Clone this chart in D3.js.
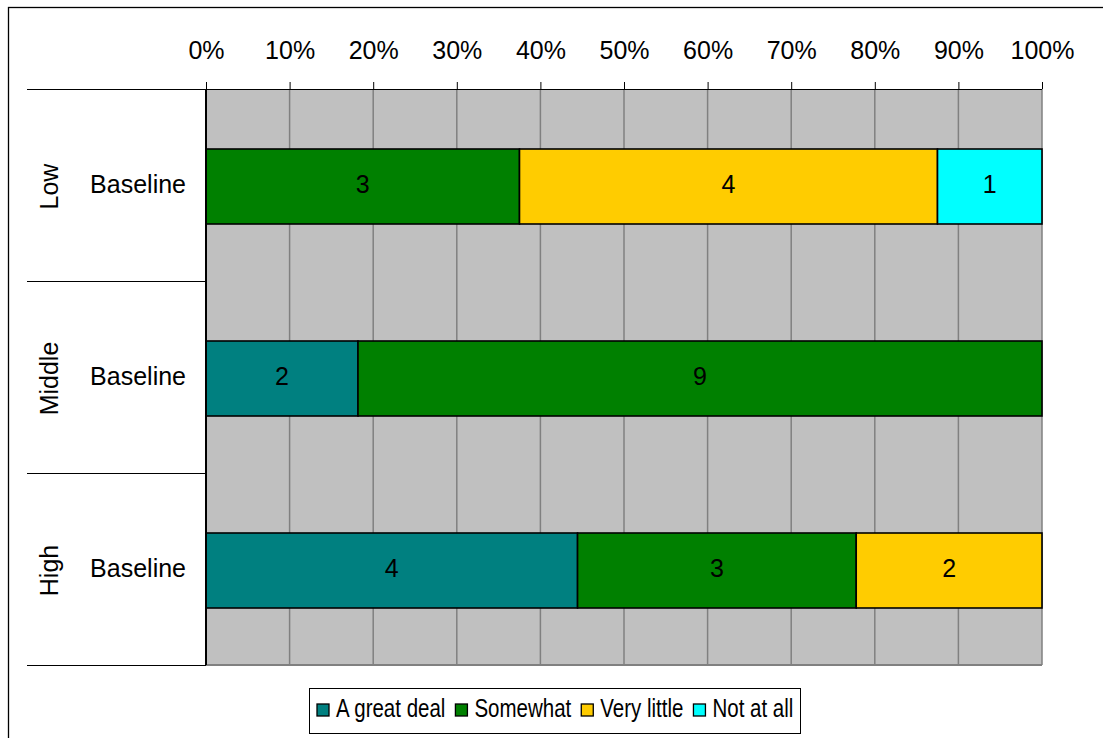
<!DOCTYPE html>
<html>
<head>
<meta charset="utf-8">
<script src="https://cdn.jsdelivr.net/npm/d3@7"></script>
<style>
  html, body { margin: 0; padding: 0; background: #fff; }
  svg { display: block; }
  text { font-family: "Liberation Sans", Arial, sans-serif; fill: #000; }
</style>
</head>
<body>
<svg id="chart" width="1103" height="738"></svg>
<script>
// Response counts per income group (all measured at baseline)
const groups = ["Low", "Middle", "High"];
const rowLabels = ["Baseline", "Baseline", "Baseline"];
const seriesNames = ["A great deal", "Somewhat", "Very little", "Not at all"];
const seriesColors = ["#008080", "#008000", "#FFCC00", "#00FFFF"];
const aGreatDeal = [0, 2, 4];
const somewhat = [3, 9, 3];
const veryLittle = [4, 0, 2];
const notAtAll = [1, 0, 0];
const tickValues = [0, 0.1, 0.2, 0.3, 0.4, 0.5, 0.6, 0.7, 0.8, 0.9, 1];

const FONT = 25;
const svg = d3.select("#chart");

// outer frame
svg.append("rect").attr("x", 8.5).attr("y", 7.5).attr("width", 1100).attr("height", 740)
  .attr("fill", "none").attr("stroke", "#000").attr("stroke-width", 1.3);

const plot = { left: 206, right: 1042, top: 89, bottom: 665 };
const x = d3.scaleLinear().domain([0, 1]).range([plot.left, plot.right]);
const y = d3.scaleBand().domain(groups).range([plot.top, plot.bottom]);

// build 100% stacked rows
const rows = groups.map((g, i) => {
  const vals = [aGreatDeal[i], somewhat[i], veryLittle[i], notAtAll[i]];
  const total = d3.sum(vals);
  let acc = 0;
  return vals.map((v, k) => {
    const s = { group: g, series: k, value: v, x0: acc / total, x1: (acc + v) / total };
    acc += v;
    return s;
  });
});

// plot background
svg.append("rect").attr("x", plot.left).attr("y", plot.top)
  .attr("width", plot.right - plot.left).attr("height", plot.bottom - plot.top)
  .attr("fill", "#C0C0C0");

// vertical gridlines
svg.append("g").selectAll("line").data(tickValues.slice(1)).join("line")
  .attr("x1", d => x(d)).attr("x2", d => x(d))
  .attr("y1", plot.top).attr("y2", plot.bottom)
  .attr("stroke", "#808080").attr("stroke-width", 1.5);

// bottom edge of plot
svg.append("line").attr("x1", plot.left).attr("x2", plot.right)
  .attr("y1", plot.bottom).attr("y2", plot.bottom)
  .attr("stroke", "#808080").attr("stroke-width", 2);

// top axis with ticks
const xAxis = d3.axisTop(x).tickValues(tickValues).tickFormat(d3.format(".0%"))
  .tickSize(7).tickSizeOuter(0).tickPadding(23);
const ax = svg.append("g").attr("transform", `translate(0,${plot.top})`).call(xAxis);
ax.select(".domain").remove();
ax.selectAll(".tick line").attr("stroke", "#000").attr("stroke-width", 1);
ax.selectAll(".tick text").style("font-size", FONT + "px")
  .style("font-family", "'Liberation Sans', Arial, sans-serif").attr("fill", "#000");
svg.append("line").attr("x1", 27).attr("x2", plot.right)
  .attr("y1", plot.top + 0.5).attr("y2", plot.top + 0.5)
  .attr("stroke", "#000").attr("stroke-width", 1);

// bars
const barH = 75;
const barG = svg.append("g");
rows.forEach((row) => {
  const segs = row.filter(d => d.value > 0);
  const cy = y(row[0].group) + y.bandwidth() / 2 + 1.5;
  barG.selectAll(null).data(segs).join("rect")
    .attr("x", d => x(d.x0)).attr("width", d => x(d.x1) - x(d.x0))
    .attr("y", cy - barH / 2).attr("height", barH)
    .attr("fill", d => seriesColors[d.series])
    .attr("stroke", "#000").attr("stroke-width", 1.6);
  barG.selectAll(null).data(segs).join("text")
    .attr("x", d => (x(d.x0) + x(d.x1)) / 2).attr("y", cy + 6.5)
    .attr("text-anchor", "middle").style("font-size", FONT + "px")
    .text(d => d.value);
});

// left axis line
svg.append("line").attr("x1", plot.left).attr("x2", plot.left)
  .attr("y1", plot.top).attr("y2", plot.bottom)
  .attr("stroke", "#000").attr("stroke-width", 2);

// group separators on the category axis
const seps = groups.map(g => y(g) + y.bandwidth());
svg.append("g").selectAll("line").data(seps).join("line")
  .attr("x1", 27).attr("x2", plot.left)
  .attr("y1", d => d + 0.5).attr("y2", d => d + 0.5)
  .attr("stroke", "#000").attr("stroke-width", 1);

// category labels
groups.forEach((g, i) => {
  const cy = y(g) + y.bandwidth() / 2 + 1.5;
  svg.append("text").attr("x", 186).attr("y", cy + 6.5)
    .attr("text-anchor", "end").style("font-size", FONT + "px").text(rowLabels[i]);
  svg.append("text").attr("transform", `translate(58,${cy}) rotate(-90)`)
    .attr("text-anchor", "middle").style("font-size", FONT + "px").text(g);
});

// legend (condensed lettering)
const legend = svg.append("g");
legend.append("rect").attr("x", 309.5).attr("y", 688.5)
  .attr("width", 491).attr("height", 45)
  .attr("fill", "#fff").attr("stroke", "#000").attr("stroke-width", 1);
const squeeze = 0.82;
let lx = 317;
seriesNames.forEach((name, k) => {
  legend.append("rect").attr("x", lx).attr("y", 704).attr("width", 12).attr("height", 12)
    .attr("fill", seriesColors[k]).attr("stroke", "#000").attr("stroke-width", 1.3);
  const t = legend.append("text")
    .attr("transform", `translate(${lx + 19},717) scale(${squeeze},1)`)
    .style("font-size", "25px")
    .text(name);
  lx += 19 + t.node().getComputedTextLength() * squeeze + 10;
});
</script>
</body>
</html>
